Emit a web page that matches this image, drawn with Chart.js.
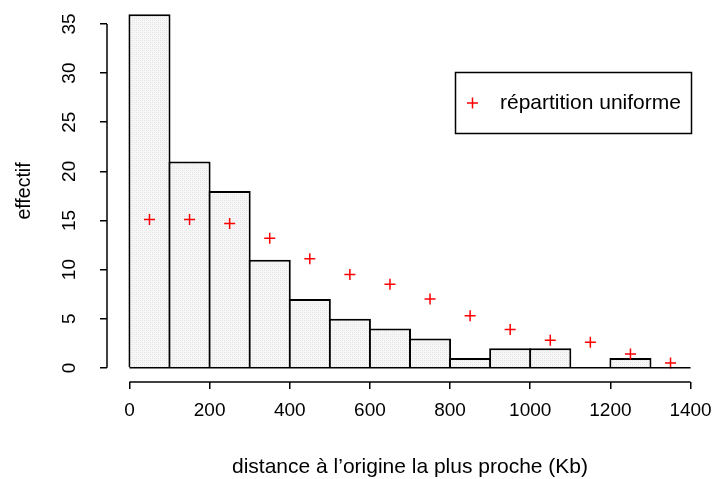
<!DOCTYPE html>
<html>
<head>
<meta charset="utf-8">
<script src="https://cdn.jsdelivr.net/npm/chart.js@4.4.0/dist/chart.umd.min.js"></script>
<style>
  html, body { margin: 0; padding: 0; background: #fff; }
  #cadre { width: 715px; height: 479px; }
</style>
</head>
<body>
<div id="cadre"><canvas id="histo"></canvas></div>
<script>
// centres des classes (Kb) et effectifs observés
const milieux = [50, 150, 250, 350, 450, 550, 650, 750, 850, 950, 1050, 1150, 1250, 1350];
const effectifs = [36, 21, 18, 11, 7, 5, 4, 3, 1, 2, 2, 0, 1, 0];
// effectifs attendus sous une répartition uniforme
const uniforme = [15.1, 15.1, 14.7, 13.2, 11.1, 9.5, 8.5, 7.0, 5.3, 3.9, 2.8, 2.6, 1.4, 0.5];
const ticksX = [0, 200, 400, 600, 800, 1000, 1200, 1400];
const ticksY = [0, 5, 10, 15, 20, 25, 30, 35];

const police = "'Liberation Sans', Arial, Helvetica, sans-serif";
const taille = 19;
const tailleTitre = 21;

// trame grise légère comme hist() de R
function trame() {
  const c = document.createElement("canvas");
  c.width = 4; c.height = 4;
  const g = c.getContext("2d");
  g.fillStyle = "#f6f6f6";
  g.fillRect(0, 0, 4, 4);
  g.fillStyle = "#e2e2e2";
  g.fillRect(0, 0, 1, 1);
  g.fillRect(2, 2, 1, 1);
  g.fillStyle = "#ececf2";
  g.fillRect(2, 0, 1, 1);
  g.fillRect(0, 2, 1, 1);
  return g.createPattern(c, "repeat");
}

const axesR = {
  id: "axesR",
  afterDraw(chart) {
    const ctx = chart.ctx;
    const x = chart.scales.x, y = chart.scales.y;
    const a = chart.chartArea;
    ctx.save();
    ctx.strokeStyle = "#000";
    ctx.lineWidth = 1.5;
    // ligne de base de l'histogramme
    ctx.beginPath();
    ctx.moveTo(x.getPixelForValue(ticksX[0]), y.getPixelForValue(0));
    ctx.lineTo(x.getPixelForValue(ticksX[ticksX.length - 1]), y.getPixelForValue(0));
    ctx.stroke();
    // axe x détaché
    ctx.beginPath();
    ctx.moveTo(x.getPixelForValue(ticksX[0]), a.bottom);
    ctx.lineTo(x.getPixelForValue(ticksX[ticksX.length - 1]), a.bottom);
    ctx.stroke();
    // axe y détaché
    ctx.beginPath();
    ctx.moveTo(a.left, y.getPixelForValue(ticksY[0]));
    ctx.lineTo(a.left, y.getPixelForValue(ticksY[ticksY.length - 1]));
    ctx.stroke();

    // légende
    const bx = 455, by = 72, bw = 236, bh = 61;
    ctx.strokeRect(bx + 0.5, by + 0.5, bw, bh);
    const cy = by + bh / 2 + 0.5;
    ctx.strokeStyle = "#ff0000";
    ctx.beginPath();
    ctx.moveTo(bx + 12, cy); ctx.lineTo(bx + 23, cy);
    ctx.moveTo(bx + 17.5, cy - 5.5); ctx.lineTo(bx + 17.5, cy + 5.5);
    ctx.stroke();
    ctx.fillStyle = "#000";
    ctx.font = tailleTitre + "px " + police;
    ctx.textBaseline = "middle";
    ctx.fillText(chart.data.datasets[1].label, bx + 45, cy);
    ctx.restore();
  }
};

const ctx = document.getElementById("histo");
new Chart(ctx, {
  type: "bar",
  data: {
    datasets: [
      {
        label: "effectif",
        data: milieux.map((m, i) => ({ x: m, y: effectifs[i] })),
        backgroundColor: trame(),
        borderColor: "#000",
        borderWidth: 2,
        borderSkipped: "bottom",
        barPercentage: 1.05,
        categoryPercentage: 1,
        order: 2
      },
      {
        type: "scatter",
        label: "répartition uniforme",
        data: milieux.map((m, i) => ({ x: m, y: uniforme[i] })),
        pointStyle: "cross",
        radius: 5.5,
        borderColor: "#ff0000",
        borderWidth: 1.5,
        order: 1
      }
    ]
  },
  options: {
    responsive: true,
    maintainAspectRatio: false,
    animation: false,
    layout: { autoPadding: false, padding: { top: 0, right: 2, left: 0, bottom: 0 } },
    plugins: { legend: { display: false }, tooltip: { enabled: false } },
    scales: {
      x: {
        type: "linear",
        offset: false,
        min: -56,
        max: 1456,
        afterBuildTicks: (s) => { s.ticks = ticksX.map(v => ({ value: v })); },
        afterFit: (s) => { s.height = 97; s.paddingLeft = 0; s.paddingRight = 0; },
        border: { display: false },
        grid: { offset: false, drawOnChartArea: false, drawTicks: true, tickLength: 7, color: "#000", lineWidth: 1.5 },
        ticks: {
          color: "#000",
          font: { family: police, size: taille, lineHeight: 1 },
          padding: 12,
          maxRotation: 0,
          autoSkip: false,
          callback: (v) => String(v)
        },
        title: {
          display: true,
          text: "distance à l’origine la plus proche (Kb)",
          color: "#000",
          font: { family: police, size: tailleTitre, lineHeight: 1 },
          padding: { top: 0, bottom: 1 }
        }
      },
      y: {
        min: -1.44,
        max: 37.44,
        afterBuildTicks: (s) => { s.ticks = ticksY.map(v => ({ value: v })); },
        afterFit: (s) => { s.width = 107; s.paddingTop = 0; s.paddingBottom = 0; },
        border: { display: false },
        grid: { drawOnChartArea: false, drawTicks: true, tickLength: 7, color: "#000", lineWidth: 1.5 },
        ticks: {
          color: "#000",
          font: { family: police, size: taille, lineHeight: 1 },
          padding: 20,
          minRotation: 90,
          maxRotation: 90,
          crossAlign: "center",
          callback: (v) => String(v)
        },
        title: {
          display: true,
          text: "effectif",
          color: "#000",
          font: { family: police, size: 19.5, lineHeight: 1 },
          padding: { top: 15, bottom: 0 }
        }
      }
    }
  },
  plugins: [axesR]
});
</script>
</body>
</html>
